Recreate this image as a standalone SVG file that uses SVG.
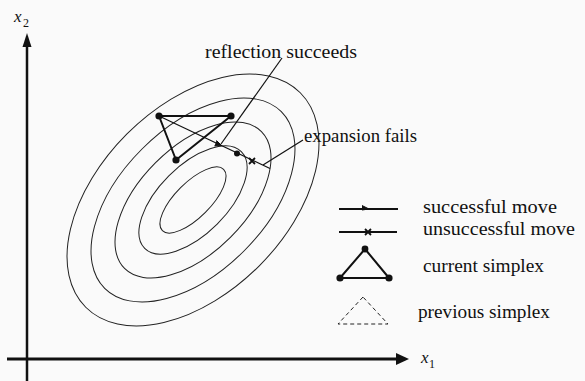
<svg xmlns="http://www.w3.org/2000/svg" width="585" height="381" viewBox="0 0 585 381">
<style>
text{font-family:"Liberation Serif","Times New Roman",serif;font-size:19px;fill:#111}
.it{font-style:italic;font-size:17px}
.sub{font-size:12px}
.ct{fill:none;stroke:#222;stroke-width:1}
.sx{fill:none;stroke:#111;stroke-width:2;stroke-linejoin:round}
.ln{fill:none;stroke:#111;stroke-width:1.2}
.dot{fill:#111}
.ax{fill:none;stroke:#111}
.xm{stroke:#111;stroke-width:1.8;fill:none}
</style>
<rect width="585" height="381" fill="#fafafa"/>
<g id="axes">
<line class="ax" x1="27" y1="381" x2="27" y2="44" stroke-width="2.5"/>
<polygon points="27,33 22.5,47 31.5,47" fill="#111"/>
<line class="ax" x1="7" y1="359" x2="398" y2="359" stroke-width="3"/>
<polygon points="409,359 396,353 396,365" fill="#111"/>
<text class="it" x="14" y="22">x</text><text class="sub" x="23" y="27">2</text>
<text class="it" x="421" y="363">x</text><text class="sub" x="429" y="368">1</text>
</g>
<g id="contours" transform="rotate(-45 193 200)">
<ellipse class="ct" cx="193" cy="200" rx="43.3" ry="17.5"/>
<ellipse class="ct" cx="193" cy="200" rx="68.3" ry="34.2"/>
<ellipse class="ct" cx="193" cy="200" rx="96.8" ry="52.9"/>
<ellipse class="ct" cx="193" cy="200" rx="124.9" ry="72.1"/>
<ellipse class="ct" cx="193" cy="200" rx="151.7" ry="93.4"/>
</g>
<g id="simplex">
<polygon class="sx" points="159,116 231,116 176,160"/>
<circle class="dot" cx="159" cy="116" r="3.6"/>
<circle class="dot" cx="231" cy="116" r="3.6"/>
<circle class="dot" cx="176" cy="160" r="3.6"/>
</g>
<g id="connectors">
<line class="ln" x1="159" y1="116" x2="270" y2="168.5"/>
<path d="M216.5,140.5 L221.5,145.5 L214.5,146" fill="#111" stroke="#111" stroke-width="1"/>
<circle class="dot" cx="237" cy="153.5" r="3"/>
<path class="xm" d="M249,158 L255,164 M255,158 L249,164"/>
<line class="ln" x1="282" y1="58" x2="221" y2="144" stroke-width="1"/>
<line class="ln" x1="263" y1="165" x2="303" y2="140" stroke-width="1"/>
</g>
<g id="labels">
<text x="205" y="58" textLength="152" lengthAdjust="spacingAndGlyphs">reflection succeeds</text>
<text x="304" y="142" textLength="113" lengthAdjust="spacingAndGlyphs">expansion fails</text>
</g>
<g id="legend">
<line x1="339" y1="209" x2="398" y2="209" stroke="#111" stroke-width="2"/>
<path d="M362,205.5 L369,209 L362,210" fill="#111" stroke="#111" stroke-width="1"/>
<line x1="339" y1="232" x2="397" y2="232" stroke="#111" stroke-width="2"/>
<path class="xm" d="M365,229 L371,235 M371,229 L365,235"/>
<polygon class="sx" points="365,249 340,278 389,278"/>
<circle class="dot" cx="365" cy="249" r="3.4"/>
<circle class="dot" cx="340" cy="278" r="3.6"/>
<circle class="dot" cx="389" cy="278" r="3.6"/>
<polygon points="363,297 338,324 388,324" fill="none" stroke="#222" stroke-width="1" stroke-dasharray="4,3"/>
<text x="423" y="213" textLength="134" lengthAdjust="spacingAndGlyphs">successful move</text>
<text x="423" y="235" textLength="152" lengthAdjust="spacingAndGlyphs">unsuccessful move</text>
<text x="423" y="272" textLength="121" lengthAdjust="spacingAndGlyphs">current simplex</text>
<text x="418" y="318" textLength="132" lengthAdjust="spacingAndGlyphs">previous simplex</text>
</g>
</svg>
